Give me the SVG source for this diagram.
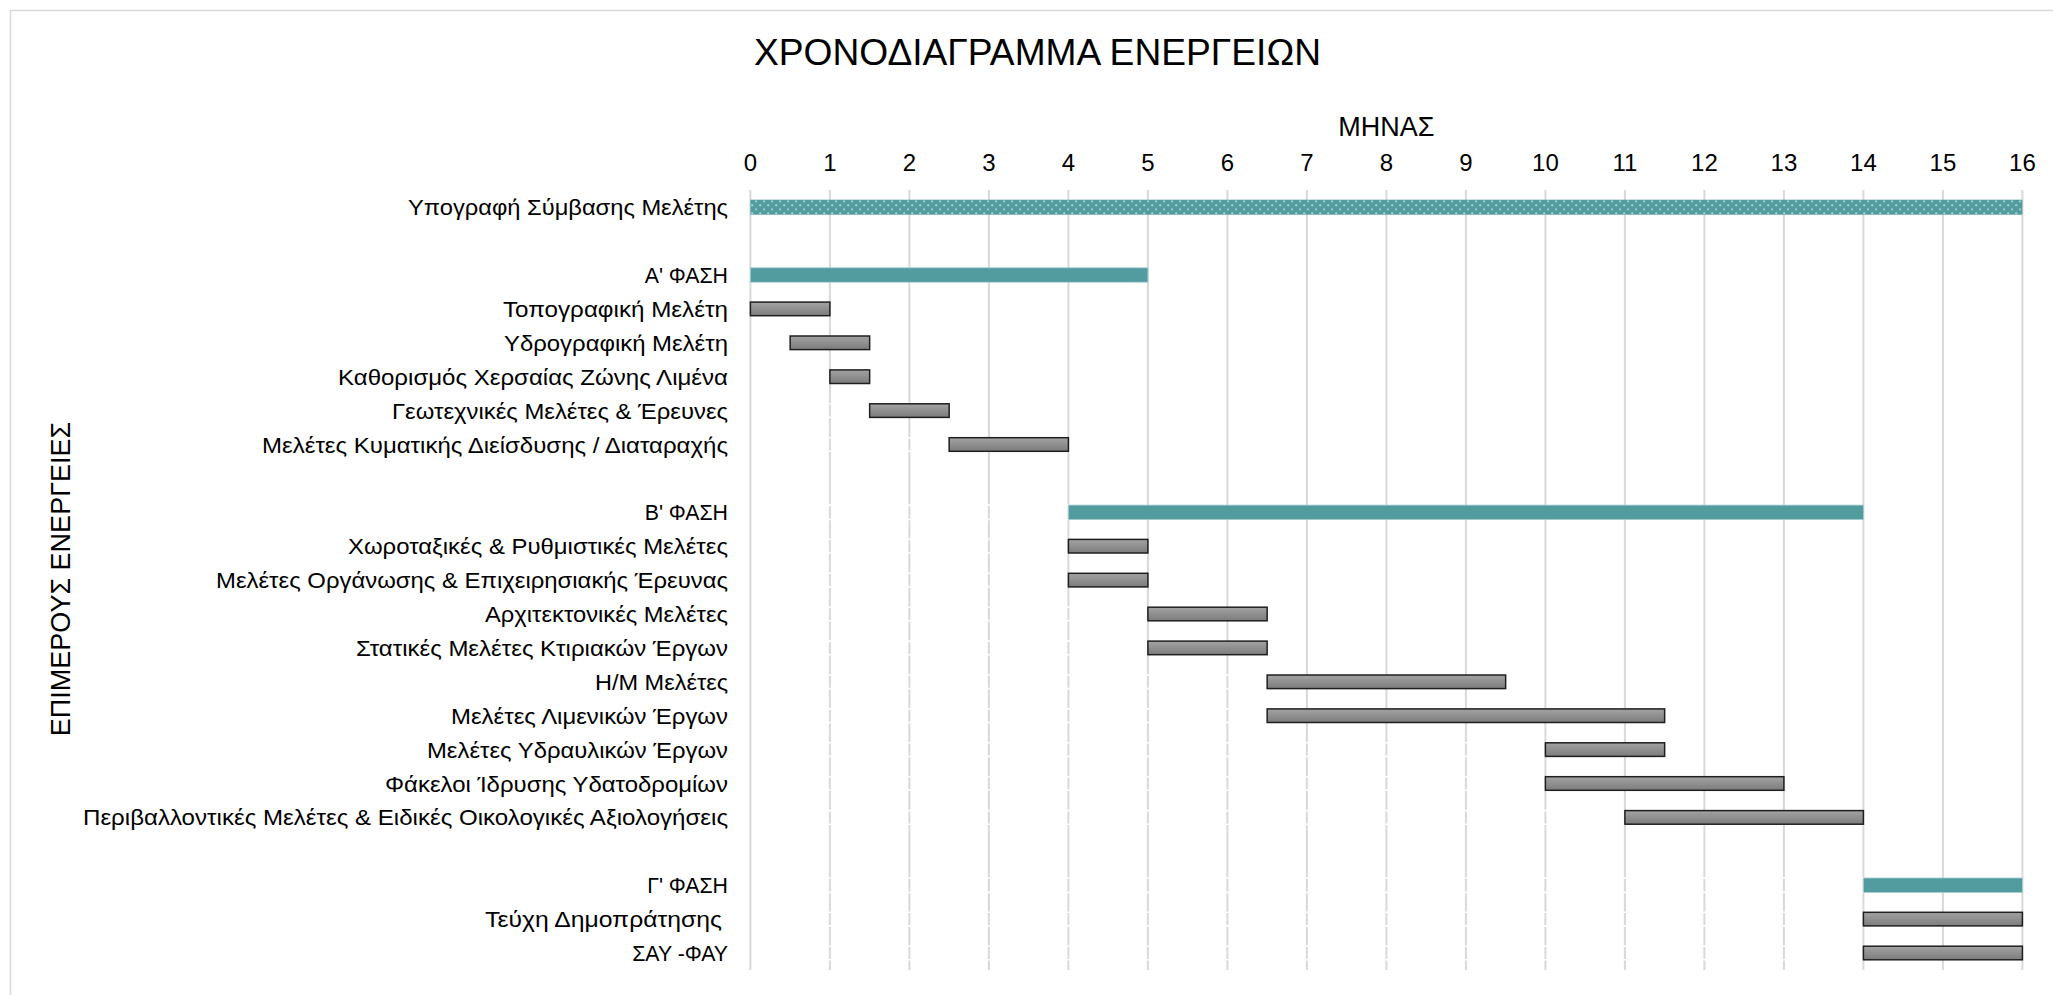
<svg xmlns="http://www.w3.org/2000/svg" width="2053" height="995" viewBox="0 0 2053 995">
<defs>
<style>
text{font-family:"Liberation Sans",Arial,sans-serif;fill:#000}
.lbl{font-size:21.3px;text-anchor:end}
.tick{font-size:24px;text-anchor:middle}
.axt{font-size:27px;text-anchor:middle}
.grid line{stroke:#d9d9d9;stroke-width:2}
.task{fill:url(#gray);stroke:#1f1f1f;stroke-width:1.5}
.phase{fill:#529ca0;stroke:#a3cdcf;stroke-width:0.8}
.gap{stroke:#fff;stroke-width:1.6;fill:none}
</style>
<linearGradient id="gray" x1="0" y1="0" x2="0" y2="1">
<stop offset="0" stop-color="#a3a3a3"/>
<stop offset="1" stop-color="#7c7c7c"/>
</linearGradient>
<pattern id="dots" x="750.4" y="199.7" width="8" height="8" patternUnits="userSpaceOnUse">
<rect width="8" height="8" fill="#529ca0"/>
<rect x="1" y="4.8" width="1.6" height="1.3" fill="#ffffff"/>
<rect x="5" y="0.8" width="1.2" height="1.6" fill="#ffffff"/>
</pattern>
</defs>
<rect x="10.5" y="10.5" width="2100" height="1100" fill="#fff" stroke="#d9d9d9" stroke-width="1.5"/>
<text id="title" x="754" y="65" style="font-size:37px" textLength="567" lengthAdjust="spacingAndGlyphs">ΧΡΟΝΟΔΙΑΓΡΑΜΜΑ ΕΝΕΡΓΕΙΩΝ</text>
<text id="xaxis-title" class="axt" x="1386.4" y="136">ΜΗΝΑΣ</text>
<text id="yaxis-title" class="axt" transform="translate(69.5 579) rotate(-90)">ΕΠΙΜΕΡΟΥΣ ΕΝΕΡΓΕΙΕΣ</text>
<g id="ticks" class="tick">
<text class="tick" x="750.4" y="171">0</text>
<text class="tick" x="829.9" y="171">1</text>
<text class="tick" x="909.4" y="171">2</text>
<text class="tick" x="988.9" y="171">3</text>
<text class="tick" x="1068.4" y="171">4</text>
<text class="tick" x="1147.9" y="171">5</text>
<text class="tick" x="1227.4" y="171">6</text>
<text class="tick" x="1306.9" y="171">7</text>
<text class="tick" x="1386.4" y="171">8</text>
<text class="tick" x="1465.9" y="171">9</text>
<text class="tick" x="1545.4" y="171">10</text>
<text class="tick" x="1624.9" y="171">11</text>
<text class="tick" x="1704.4" y="171">12</text>
<text class="tick" x="1783.9" y="171">13</text>
<text class="tick" x="1863.4" y="171">14</text>
<text class="tick" x="1942.9" y="171">15</text>
<text class="tick" x="2022.4" y="171">16</text>
</g>
<g id="grid" class="grid">
<line x1="750.4" y1="190" x2="750.4" y2="970"/>
<line x1="829.9" y1="190" x2="829.9" y2="970"/>
<line x1="909.4" y1="190" x2="909.4" y2="970"/>
<line x1="988.9" y1="190" x2="988.9" y2="970"/>
<line x1="1068.4" y1="190" x2="1068.4" y2="970"/>
<line x1="1147.9" y1="190" x2="1147.9" y2="970"/>
<line x1="1227.4" y1="190" x2="1227.4" y2="970"/>
<line x1="1306.9" y1="190" x2="1306.9" y2="970"/>
<line x1="1386.4" y1="190" x2="1386.4" y2="970"/>
<line x1="1465.9" y1="190" x2="1465.9" y2="970"/>
<line x1="1545.4" y1="190" x2="1545.4" y2="970"/>
<line x1="1624.9" y1="190" x2="1624.9" y2="970"/>
<line x1="1704.4" y1="190" x2="1704.4" y2="970"/>
<line x1="1783.9" y1="190" x2="1783.9" y2="970"/>
<line x1="1863.4" y1="190" x2="1863.4" y2="970"/>
<line x1="1942.9" y1="190" x2="1942.9" y2="970"/>
<line x1="2022.4" y1="190" x2="2022.4" y2="970"/>
</g>
<g id="connectors">
<path class="gap" d="M752 336H790.15M752 349.6H790.15M752 369.9H829.9M752 383.5H829.9M752 403.8H869.65M752 417.4H869.65M752 437.7H949.15M752 451.3H949.15M752 505.1H1068.4M752 519.5H1068.4M752 539.4H1068.4M752 553H1068.4M752 573.3H1068.4M752 586.9H1068.4M752 607.2H1147.9M752 620.8H1147.9M752 641.1H1147.9M752 654.7H1147.9M752 675H1267.15M752 688.6H1267.15M752 708.9H1267.15M752 722.5H1267.15M752 742.8H1545.4M752 756.4H1545.4M752 776.7H1545.4M752 790.3H1545.4M752 810.6H1624.9M752 824.2H1624.9M752 878H1863.4M752 892.4H1863.4M752 912.3H1863.4M752 925.9H1863.4M752 946.2H1863.4M752 959.8H1863.4"/>
</g>
<g id="n-ypografi"><text class="lbl" x="728" y="215.2" textLength="320" lengthAdjust="spacingAndGlyphs">Υπογραφή Σύμβασης Μελέτης</text><rect x="750.4" y="199.7" width="1272" height="15" fill="url(#dots)"/></g>
<g id="n-phaseA"><text class="lbl" x="728" y="283">Α' ΦΑΣΗ</text><rect class="phase" x="750.4" y="267.8" width="397.5" height="14.4"/></g>
<g id="n-topo"><text class="lbl" x="728" y="316.9" textLength="225" lengthAdjust="spacingAndGlyphs">Τοπογραφική Μελέτη</text><rect class="task" x="750.4" y="302.1" width="79.5" height="13.6"/></g>
<g id="n-ydro"><text class="lbl" x="728" y="350.8" textLength="224" lengthAdjust="spacingAndGlyphs">Υδρογραφική Μελέτη</text><rect class="task" x="790.15" y="336" width="79.5" height="13.6"/></g>
<g id="n-kathor"><text class="lbl" x="728" y="384.7" textLength="390" lengthAdjust="spacingAndGlyphs">Καθορισμός Χερσαίας Ζώνης Λιμένα</text><rect class="task" x="829.9" y="369.9" width="39.75" height="13.6"/></g>
<g id="n-geotech"><text class="lbl" x="728" y="418.6" textLength="336" lengthAdjust="spacingAndGlyphs">Γεωτεχνικές Μελέτες &amp; Έρευνες</text><rect class="task" x="869.65" y="403.8" width="79.5" height="13.6"/></g>
<g id="n-kymat"><text class="lbl" x="728" y="452.5" textLength="466" lengthAdjust="spacingAndGlyphs">Μελέτες Κυματικής Διείσδυσης / Διαταραχής</text><rect class="task" x="949.15" y="437.7" width="119.25" height="13.6"/></g>
<g id="n-phaseB"><text class="lbl" x="728" y="520.3">Β' ΦΑΣΗ</text><rect class="phase" x="1068.4" y="505.1" width="795" height="14.4"/></g>
<g id="n-xorot"><text class="lbl" x="728" y="554.2" textLength="380" lengthAdjust="spacingAndGlyphs">Χωροταξικές &amp; Ρυθμιστικές Μελέτες</text><rect class="task" x="1068.4" y="539.4" width="79.5" height="13.6"/></g>
<g id="n-organ"><text class="lbl" x="728" y="588.1" textLength="512" lengthAdjust="spacingAndGlyphs">Μελέτες Οργάνωσης &amp; Επιχειρησιακής Έρευνας</text><rect class="task" x="1068.4" y="573.3" width="79.5" height="13.6"/></g>
<g id="n-arxit"><text class="lbl" x="728" y="622" textLength="243" lengthAdjust="spacingAndGlyphs">Αρχιτεκτονικές Μελέτες</text><rect class="task" x="1147.9" y="607.2" width="119.25" height="13.6"/></g>
<g id="n-statik"><text class="lbl" x="728" y="655.9" textLength="372" lengthAdjust="spacingAndGlyphs">Στατικές Μελέτες Κτιριακών Έργων</text><rect class="task" x="1147.9" y="641.1" width="119.25" height="13.6"/></g>
<g id="n-hm"><text class="lbl" x="728" y="689.8" textLength="133" lengthAdjust="spacingAndGlyphs">Η/Μ Μελέτες</text><rect class="task" x="1267.15" y="675" width="238.5" height="13.6"/></g>
<g id="n-limen"><text class="lbl" x="728" y="723.7" textLength="277" lengthAdjust="spacingAndGlyphs">Μελέτες Λιμενικών Έργων</text><rect class="task" x="1267.15" y="708.9" width="397.5" height="13.6"/></g>
<g id="n-ydraul"><text class="lbl" x="728" y="757.6" textLength="301" lengthAdjust="spacingAndGlyphs">Μελέτες Υδραυλικών Έργων</text><rect class="task" x="1545.4" y="742.8" width="119.25" height="13.6"/></g>
<g id="n-fakeloi"><text class="lbl" x="728" y="791.5" textLength="343" lengthAdjust="spacingAndGlyphs">Φάκελοι Ίδρυσης Υδατοδρομίων</text><rect class="task" x="1545.4" y="776.7" width="238.5" height="13.6"/></g>
<g id="n-perib"><text class="lbl" x="728" y="825.4" textLength="645" lengthAdjust="spacingAndGlyphs">Περιβαλλοντικές Μελέτες &amp; Ειδικές Οικολογικές Αξιολογήσεις</text><rect class="task" x="1624.9" y="810.6" width="238.5" height="13.6"/></g>
<g id="n-phaseC"><text class="lbl" x="728" y="893.2">Γ' ΦΑΣΗ</text><rect class="phase" x="1863.4" y="878" width="159" height="14.4"/></g>
<g id="n-teuxi"><text class="lbl" x="722" y="927.1" textLength="237" lengthAdjust="spacingAndGlyphs">Τεύχη Δημοπράτησης</text><rect class="task" x="1863.4" y="912.3" width="159" height="13.6"/></g>
<g id="n-say"><text class="lbl" x="728" y="961">ΣΑΥ -ΦΑΥ</text><rect class="task" x="1863.4" y="946.2" width="159" height="13.6"/></g>
</svg>
